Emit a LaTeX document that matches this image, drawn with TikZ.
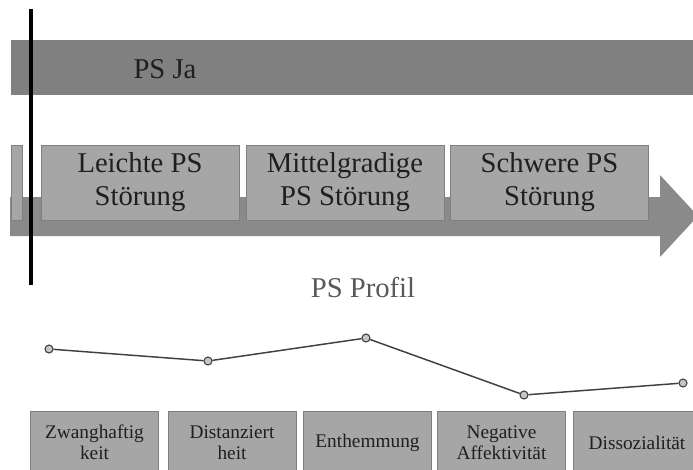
\documentclass[tikz,border=0pt]{standalone}
\usepackage{fontspec}
\setmainfont{Liberation Serif}
\usepackage{xcolor}
\usepackage{tikz}
\usetikzlibrary{
  arrows.meta,
  positioning,
  calc
}
\definecolor{bandgray}{HTML}{808080}
\definecolor{shaftgray}{HTML}{8A8A8A}
\definecolor{boxgray}{HTML}{A6A6A6}
\definecolor{edgegray}{HTML}{7F7F7F}
\definecolor{inkgray}{HTML}{1F1F1F}
\definecolor{titlegray}{HTML}{595959}
\definecolor{linegray}{HTML}{404040}

\begin{document}
\begin{tikzpicture}[x=0.75pt,y=-0.75pt,
  stagebox/.style={draw=edgegray,fill=boxgray,line width=0.6pt,
    minimum width=148.5pt,minimum height=56.25pt,inner sep=0pt,align=center,
    text=inkgray,font=\fontsize{21.5}{24.75}\selectfont},
  traitbox/.style={draw=edgegray,fill=boxgray,line width=0.6pt,
    minimum width=96pt,minimum height=47.25pt,inner sep=0pt,align=center,
    text=inkgray,font=\fontsize{14.5}{15.75}\selectfont},
  profpt/.style={circle,draw=linegray,fill=gray!45,line width=0.8pt,
    minimum size=6pt,inner sep=0pt}]
  \clip (0,0) rectangle (693,469);
  \fill[white] (0,0) rectangle (693,469);
  % PS Ja band
  \fill[bandgray] (11,40) rectangle (700,95);
  \node[text=inkgray,font=\fontsize{21.5}{24}\selectfont] (psja) at (165,69) {PS Ja};
  % Severity arrow
  \fill[shaftgray] (10,197) -- (660,197) -- (660,175) -- (698,216)
       -- (660,257) -- (660,236) -- (10,236) -- cycle;
  \fill[boxgray,draw=edgegray,line width=0.6pt] (11,145) rectangle (22,220);
  \node[stagebox] (leicht) at (140,182.5) {Leichte PS\\Störung};
  \node[stagebox] (mittel) at (345,182.5) {Mittelgradige\\PS Störung};
  \node[stagebox] (schwer) at (549.5,182.5) {Schwere PS\\Störung};
  % Threshold line
  \draw[line width=3.5pt,black] (31,9) -- (31,285);
  % Profile
  \node[text=titlegray,font=\fontsize{21.5}{24}\selectfont] (profil) at (363,288) {PS Profil};
  \node[profpt] (p1) at (49,349) {};
  \node[profpt] (p2) at (208,361) {};
  \node[profpt] (p3) at (366,338) {};
  \node[profpt] (p4) at (524,395) {};
  \node[profpt] (p5) at (683,383) {};
  \draw[linegray,line width=1.1pt] (p1) -- (p2) -- (p3) -- (p4) -- (p5);
  % Trait boxes
  \node[traitbox] (zwang) at (94.5,442.5) {Zwanghaftig\\keit};
  \node[traitbox] (dist) at (232,442.5) {Distanziert\\heit};
  \node[traitbox] (enth) at (367.5,442.5) {Enthemmung};
  \node[traitbox] (negaff) at (501.5,442.5) {Negative\\Affektivität};
  \node[traitbox] (dissoz) at (637,442.5) {Dissozialität};
\end{tikzpicture}
\end{document}
